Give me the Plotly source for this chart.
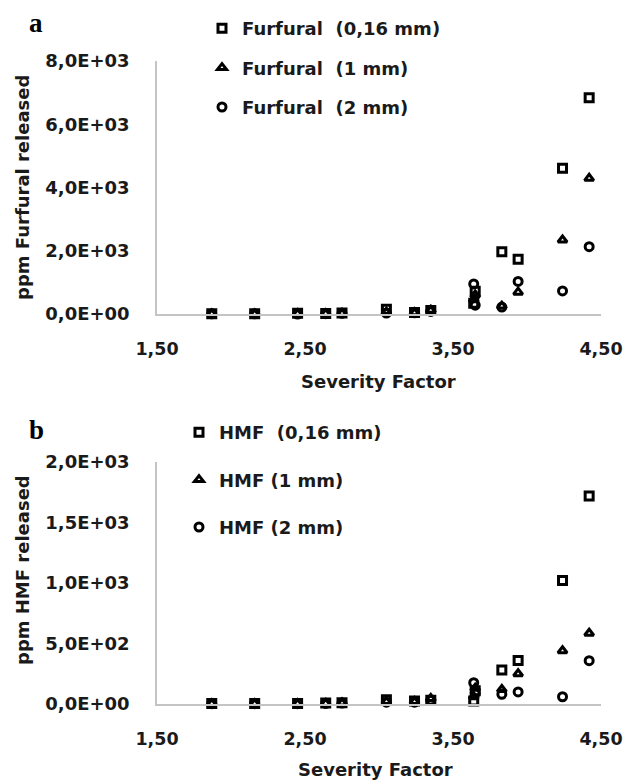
import plotly.graph_objects as go

# ---- data ----
severity = [1.87, 2.16, 2.45, 2.64, 2.75, 3.05, 3.24, 3.35, 3.64, 3.65, 3.83, 3.94, 4.24, 4.42]

fur_016 = [10, 10, 20, 15, 30, 150, 50, 110, 340, 720, 1970, 1730, 4610, 6840]
fur_1   = [5, 5, 10, 10, 20, 60, 40, 120, 450, 600, 250, 690, 2340, 4290]
fur_2   = [5, 5, 0, 10, 20, 30, 40, 80, 950, 280, 220, 1030, 730, 2130]

hmf_016 = [5, 5, 5, 8, 10, 35, 25, 30, 25, 110, 280, 360, 1020, 1720]
hmf_1   = [3, 3, 3, 5, 8, 20, 20, 45, 60, 130, 120, 250, 440, 585]
hmf_2   = [3, 3, 3, 5, 8, 15, 15, 30, 176, 88, 80, 100, 60, 358]

fur_names = ["Furfural\u00a0\u00a0(0,16 mm)", "Furfural\u00a0\u00a0(1 mm)", "Furfural\u00a0\u00a0(2 mm)"]
hmf_names = ["HMF\u00a0\u00a0(0,16 mm)", "HMF (1 mm)", "HMF (2 mm)"]
symbols = ["square-open", "triangle-up-open", "circle-open"]

x_tickvals = [1.5, 2.5, 3.5, 4.5]
x_ticktext = ["1,50", "2,50", "3,50", "4,50"]
ya_tickvals = [0, 2000, 4000, 6000, 8000]
ya_ticktext = ["0,0E+00", "2,0E+03", "4,0E+03", "6,0E+03", "8,0E+03"]
yb_tickvals = [0, 500, 1000, 1500, 2000]
yb_ticktext = ["0,0E+00", "5,0E+02", "1,0E+03", "1,5E+03", "2,0E+03"]

W, H = 627, 781
FONT = "DejaVu Sans"
TXT = "#1a1a1a"

fig = go.Figure()

def add_series(ys, names, xa, ya, leg):
    for i, (yv, nm) in enumerate(zip(ys, names)):
        fig.add_trace(go.Scatter(
            x=severity, y=yv, mode="markers", name=nm,
            xaxis=xa, yaxis=ya, legend=leg, legendgroup=leg + str(i),
            marker=dict(symbol=symbols[i], size=8, color="black",
                        line=dict(width=3, color="black")),
            cliponaxis=False,
        ))

add_series([fur_016, fur_1, fur_2], fur_names, "x", "y", "legend")
add_series([hmf_016, hmf_1, hmf_2], hmf_names, "x2", "y2", "legend2")

def px_x(p):
    return p / W

def px_y(p):
    return 1 - p / H

xdom = [px_x(157), px_x(601)]
axis_common = dict(showgrid=False, zeroline=False, showline=True,
                   linecolor="#c4c4c4", linewidth=1.6, ticks="")
yfont = dict(family=FONT, size=18, color=TXT, weight="bold")
xfont = dict(family=FONT, size=17.5, color=TXT, weight="bold")

fig.update_layout(
    width=W, height=H,
    margin=dict(l=0, r=0, t=0, b=0, autoexpand=False),
    paper_bgcolor="white", plot_bgcolor="white",
    showlegend=True,
    xaxis=dict(domain=xdom, range=[1.5, 4.5], tickvals=x_tickvals, ticktext=x_ticktext,
               anchor="y", ticklabelstandoff=18, tickfont=xfont, **axis_common),
    yaxis=dict(domain=[px_y(314), px_y(61)], range=[0, 8000], tickvals=ya_tickvals,
               ticktext=ya_ticktext, anchor="x", ticklabelstandoff=22, tickfont=yfont,
               **axis_common),
    xaxis2=dict(domain=xdom, range=[1.5, 4.5], tickvals=x_tickvals, ticktext=x_ticktext,
                anchor="y2", ticklabelstandoff=18, tickfont=xfont, **axis_common),
    yaxis2=dict(domain=[px_y(704), px_y(462)], range=[0, 2000], tickvals=yb_tickvals,
                ticktext=yb_ticktext, anchor="x2", ticklabelstandoff=22, tickfont=yfont,
                **axis_common),
    legend=dict(x=px_x(202), y=px_y(10), xanchor="left", yanchor="top",
                font=dict(family=FONT, size=18, color=TXT, weight="bold"),
                tracegroupgap=13, bgcolor="rgba(0,0,0,0)", itemwidth=30),
    legend2=dict(x=px_x(179), y=px_y(414), xanchor="left", yanchor="top",
                 font=dict(family=FONT, size=18, color=TXT, weight="bold"),
                 tracegroupgap=21, bgcolor="rgba(0,0,0,0)", itemwidth=30),
)

ann_font = dict(family=FONT, size=18, color=TXT, weight="bold")
annotations = [
    dict(text="ppm Furfural released", x=px_x(22), y=px_y(188), textangle=-90),
    dict(text="ppm HMF released", x=px_x(22), y=px_y(570), textangle=-90),
    dict(text="Severity Factor", x=px_x(378), y=px_y(381)),
    dict(text="Severity Factor", x=px_x(375), y=px_y(769)),
]
for a in annotations:
    fig.add_annotation(xref="paper", yref="paper", showarrow=False,
                       xanchor="center", yanchor="middle", font=ann_font, **a)

for lbl, (lx, ly) in [("a", (36, 23)), ("b", (36, 430))]:
    fig.add_annotation(text=lbl, xref="paper", yref="paper", x=px_x(lx), y=px_y(ly),
                       showarrow=False, xanchor="center", yanchor="middle",
                       font=dict(family="Liberation Serif", size=27, color="black", weight="bold"))

# remove the default page margin so the 627x781 figure fills the window exactly
fig.write_html("out.html",
               config={"displayModeBar": False},
               post_script="document.body.style.margin='0';document.body.style.overflow='hidden';")
